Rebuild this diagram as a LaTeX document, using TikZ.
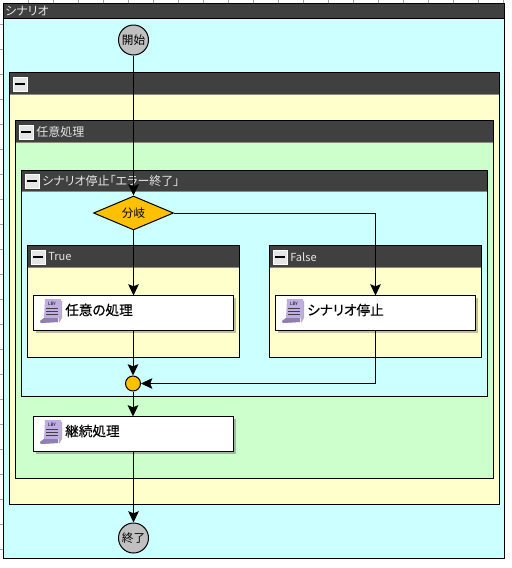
\documentclass[tikz,border=0pt]{standalone}
\usepackage{fontspec}
\setmainfont[RawFeature={+palt}]{Noto Sans CJK JP}
\newfontfamily\taskfont[RawFeature={+palt}, FakeBold=0.35]{Noto Sans CJK JP}
\usepackage{tikz}
\usetikzlibrary{arrows.meta, positioning, calc, shapes.geometric, shadows}
\definecolor{hdrgray}{HTML}{404040}
\definecolor{hdrline}{HTML}{8C8C78}
\definecolor{paleblue}{HTML}{CCFFFF}
\definecolor{paleyellow}{HTML}{FFFFCC}
\definecolor{palegreen}{HTML}{CCFFCC}
\definecolor{flowgray}{HTML}{C0C0C0}
\definecolor{floworange}{HTML}{FFC000}
\definecolor{scrollpurple}{HTML}{C0AEE2}
\definecolor{scrolldark}{HTML}{8F80B0}
\tikzset{
    framebox/.style={rectangle, draw=black, line width=0.75pt, inner sep=0pt, outer sep=0pt, anchor=north west},
    headbar/.style={rectangle, fill=hdrgray, draw=black, line width=0.75pt, inner sep=0pt, outer sep=0pt, anchor=north west},
    headline/.style={draw=hdrline, line width=0.75pt},
    headtext/.style={text=white!90!black, inner sep=0pt, anchor=west, font=\fontsize{9}{10}\selectfont},
    headlatin/.style={headtext, font=\fontsize{8.3}{10}\selectfont},
    foldbtn/.style={rectangle, fill=gray!20, draw=white, line width=0.6pt, minimum width=10.5pt, minimum height=10.5pt, inner sep=0pt},
    taskbox/.style={rectangle, fill=white, draw=black, line width=0.75pt, minimum width=150pt, minimum height=26.25pt, inner sep=0pt, outer sep=0pt, anchor=north west,
        drop shadow={shadow xshift=1.8pt, shadow yshift=-1.8pt, fill=black, opacity=0.25}},
    tasktext/.style={inner sep=0pt, anchor=west, font=\fontsize{10.2}{12}\selectfont\taskfont},
    termnode/.style={circle, fill=flowgray, draw=black, line width=0.75pt, minimum size=22.5pt, inner sep=0pt, font=\fontsize{8.7}{10}\selectfont},
    flowarrow/.style={-{Stealth[length=8.5pt,width=8pt,inset=1.6pt]}, line width=0.75pt, draw=black},
    ticks/.style={draw=gray!70, line width=0.5pt}
}
% minus button in a header
\newcommand{\foldmark}[2]{%
    \node[foldbtn] (#1) at (#2) {};
    \fill[black] ($(#1.center)+(-3.6pt,-0.9pt)$) rectangle ($(#1.center)+(3.6pt,0.9pt)$);
}
% scroll icon of a process box
\newcommand{\scrollicon}[1]{%
    \begin{scope}[shift={(#1)}]
        \fill[gray!60] (21,2) -- (22,2) -- (22,19) -- (19,24) -- (19,20) -- cycle;
        \fill[scrollpurple] (5,0) -- (21,0) -- (21,17) -- (18,19) -- (18,23) -- (1,24) -- (0,22) -- (4,19) -- cycle;
        \fill[scrolldark] (0,22) -- (4,19) -- (18,19) -- (18,23) -- (1,24) -- cycle;
        \draw[black!75, line width=0.45pt] (6,9) -- (18,9) (6,12) -- (18,12) (6,15) -- (18,15);
        \node[inner sep=0pt, font=\fontsize{3.4}{3}\selectfont] (#1-lbl) at (12,4.5) {LBY};
    \end{scope}
}
\begin{document}
\begin{tikzpicture}[x=0.75pt, y=-0.75pt]
    \useasboundingbox[fill=white] (0,0) rectangle (511,568);

    % Ruler marks
    \foreach \i in {0,...,19} {
        \draw[ticks] (28+25*\i,0) -- (28+25*\i,3);
    }
    \foreach \i in {0,...,21} {
        \draw[ticks] (0,24+25*\i) -- (3,24+25*\i);
    }

    % Outer frames
    \node[framebox, fill=paleblue, minimum width=376pt, minimum height=416.25pt] (scenario) at (3.5,3.5) {};
    \node[headbar, minimum width=376pt, minimum height=11.25pt] (scenariohd) at (3.5,3.5) {};
    \node[headtext] (scenariolbl) at (5,11.5) {シナリオ};

    \node[framebox, fill=paleyellow, minimum width=367.5pt, minimum height=324pt] (outer) at (9.5,72.5) {};
    \node[headbar, minimum width=367.5pt, minimum height=16.5pt] (outerhd) at (9.5,72.5) {};
    \foldmark{outerbtn}{20,84}

    \node[framebox, fill=palegreen, minimum width=358.5pt, minimum height=268.5pt] (anyproc) at (15.5,120.5) {};
    \node[headbar, minimum width=358.5pt, minimum height=16.5pt] (anyprochd) at (15.5,120.5) {};
    \foldmark{anyprocbtn}{26,132}
    \node[headtext] (anyproclbl) at (36,132) {任意処理};

    \node[framebox, fill=paleblue, minimum width=349.5pt, minimum height=169.5pt] (stopfr) at (21.5,170.5) {};
    \node[headbar, minimum width=349.5pt, minimum height=16pt] (stopfrhd) at (21.5,170.5) {};
    \foldmark{stopfrbtn}{32,181}
    \node[headtext] (stopfrlbl) at (42,181) {シナリオ停止「エラー終了」};

    % Branch frames
    \node[framebox, fill=paleyellow, minimum width=159pt, minimum height=84pt] (truefr) at (27.5,245.5) {};
    \node[headbar, minimum width=159pt, minimum height=16.5pt] (truefrhd) at (27.5,245.5) {};
    \foldmark{truebtn}{38,257}
    \node[headlatin] (truelbl) at (48,257) {True};

    \node[framebox, fill=paleyellow, minimum width=159pt, minimum height=84pt] (falsefr) at (269.5,245.5) {};
    \node[headbar, minimum width=159pt, minimum height=16.5pt] (falsefrhd) at (269.5,245.5) {};
    \foldmark{falsebtn}{280,257}
    \node[headlatin] (falselbl) at (290,257) {False};

    % Lower edge of the headers
    \foreach \hd in {outerhd,anyprochd,stopfrhd,truefrhd,falsefrhd} {
        \draw[headline] ($(\hd.south west)+(0.4pt,0)$) -- ($(\hd.south east)+(-0.4pt,0)$);
    }

    % Flow elements
    \node[termnode] (start) at (133.5,40) {開始};
    \node[termnode] (finish) at (133.5,538) {終了};
    \node[diamond, fill=floworange, draw=black, line width=0.75pt, minimum width=60pt, minimum height=22.5pt, inner sep=0pt, font=\fontsize{8.7}{10}\selectfont] (branch) at (133.5,213) {分岐};
    \node[circle, fill=floworange, draw=black, line width=0.75pt, minimum size=11.25pt, inner sep=0pt] (merge) at (133,383.5) {};

    \node[taskbox] (task) at (33.5,295.5) {};
    \node[taskbox] (stoptask) at (275.5,295.5) {};
    \node[taskbox] (nexttask) at (33.5,416.5) {};
    \scrollicon{40,299}
    \scrollicon{282,299}
    \scrollicon{40,420}
    \node[tasktext] (tasklbl) at (65,310) {任意の処理};
    \node[tasktext] (stoptasklbl) at (307,310) {シナリオ停止};
    \node[tasktext] (nexttasklbl) at (65,431) {継続処理};

    % Connectors
    \draw[flowarrow] (start) -- (branch);
    \draw[flowarrow] (branch) -- (task.north -| branch);
    \draw[flowarrow] (branch.east) -| (stoptask.north);
    \draw[flowarrow] (task.south -| merge) -- (merge);
    \draw[flowarrow] (stoptask.south) |- (merge);
    \draw[flowarrow] (merge) -- (nexttask.north -| merge);
    \draw[flowarrow] (nexttask.south -| finish) -- (finish);
\end{tikzpicture}
\end{document}
